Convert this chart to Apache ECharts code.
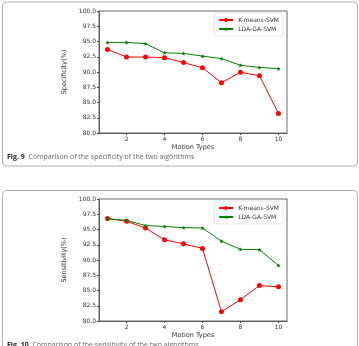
<!DOCTYPE html>
<html>
<head>
<meta charset="utf-8">
<script src="https://cdn.jsdelivr.net/npm/echarts@6/dist/echarts.min.js"></script>
<style>
  html, body { margin: 0; padding: 0; background: #fff; }
  #chart { width: 359px; height: 346px; }
</style>
</head>
<body>
<div id="chart"></div>
<script>
// data
const motionTypes = [1, 2, 3, 4, 5, 6, 7, 8, 9, 10];
const xTicks = [2, 4, 6, 8, 10];
const yTicks = [80, 82.5, 85, 87.5, 90, 92.5, 95, 97.5, 100];
const specKmeans = [93.7, 92.45, 92.45, 92.35, 91.55, 90.7, 88.25, 89.95, 89.4, 83.2];
const specLda = [94.85, 94.85, 94.65, 93.15, 93.05, 92.6, 92.2, 91.1, 90.75, 90.55];
const sensKmeans = [96.8, 96.35, 95.25, 93.3, 92.65, 91.9, 81.5, 83.5, 85.8, 85.6];
const sensLda = [96.75, 96.5, 95.65, 95.5, 95.3, 95.25, 93.1, 91.75, 91.7, 89.1];

const chart = echarts.init(document.getElementById("chart"));
const font = "DejaVu Sans";
const star = "path://M0,-10L2.9,-4L9.5,-3.1L4.8,1.5L5.9,8.1L0,5L-5.9,8.1L-4.8,1.5L-9.5,-3.1L-2.9,-4Z";
const pairs = (vals) => motionTypes.map((x, i) => [x, vals[i]]);

const xAxisOf = (gi) => ({
  gridIndex: gi,
  type: "value",
  min: 0.55,
  max: 10.45,
  name: "Motion Types",
  nameLocation: "middle",
  nameGap: 11,
  nameTextStyle: { fontFamily: font, fontSize: 6.5, color: "#333" },
  axisLine: { show: true, onZero: false, lineStyle: { color: "#444", width: 0.8 } },
  axisTick: { show: true, length: 2, customValues: xTicks, lineStyle: { color: "#444" } },
  axisLabel: {
    fontFamily: font, fontSize: 6, color: "#333", margin: 3,
    customValues: xTicks,
    formatter: (v) => String(v),
  },
  splitLine: { show: false },
});

const yAxisOf = (gi, name) => ({
  gridIndex: gi,
  type: "value",
  min: 80,
  max: 100,
  interval: 2.5,
  name: name,
  nameLocation: "middle",
  nameGap: 21,
  nameTextStyle: { fontFamily: font, fontSize: 6.5, color: "#333" },
  axisLine: { show: true, lineStyle: { color: "#444", width: 0.8 } },
  axisTick: { show: true, length: 2, lineStyle: { color: "#444" } },
  axisLabel: {
    fontFamily: font, fontSize: 6, color: "#333", margin: 3,
    formatter: (v) => yTicks.includes(v) ? v.toFixed(1) : "",
  },
  splitLine: { show: false },
});

const seriesOf = (gi, name, vals, color, symbol, size) => ({
  name: name,
  type: "line",
  xAxisIndex: gi,
  yAxisIndex: gi,
  data: pairs(vals),
  symbol: symbol,
  symbolSize: size,
  showSymbol: true,
  lineStyle: { color: color, width: 1 },
  itemStyle: { color: color },
});

const legendOf = (top) => ({
  top: top,
  right: 76,
  orient: "vertical",
  itemWidth: 14,
  itemHeight: 5,
  itemGap: 3,
  padding: [4, 4, 4, 4],
  borderColor: "#ccc",
  borderWidth: 0.6,
  borderRadius: 2,
  textStyle: { fontFamily: font, fontSize: 6, color: "#333" },
  data: ["K-means-SVM", "LDA-GA-SVM"],
});

const captionOf = (top, fig, text) => ({
  type: "text", left: 7, top: top,
  style: {
    text: "{b|" + fig + "}  " + text,
    fontFamily: "Open Sans", fontSize: 7, fill: "#666",
    rich: { b: { fontFamily: "Open Sans", fontSize: 7, fontWeight: "bold", fill: "#222" } },
  },
});

chart.setOption({
  animation: false,
  grid: [
    { left: 99, top: 11, width: 188, height: 122, show: true, borderColor: "#444", borderWidth: 0.8 },
    { left: 99, top: 199, width: 188, height: 122, show: true, borderColor: "#444", borderWidth: 0.8 },
  ],
  xAxis: [xAxisOf(0), xAxisOf(1)],
  yAxis: [yAxisOf(0, "Specificity(%)"), yAxisOf(1, "Sensitivity(%)")],
  legend: [legendOf(13), legendOf(201)],
  series: [
    seriesOf(0, "K-means-SVM", specKmeans, "#ff0000", "circle", 5),
    seriesOf(0, "LDA-GA-SVM", specLda, "#008000", star, 4),
    seriesOf(1, "K-means-SVM", sensKmeans, "#ff0000", "circle", 5),
    seriesOf(1, "LDA-GA-SVM", sensLda, "#008000", star, 4),
  ],
  graphic: [
    { type: "rect", shape: { x: 2.5, y: 2, width: 355, height: 164, r: 4 }, style: { fill: "none", stroke: "#999", lineWidth: 0.8 }, silent: true },
    { type: "rect", shape: { x: 2.5, y: 190.5, width: 355, height: 170, r: 4 }, style: { fill: "none", stroke: "#999", lineWidth: 0.8 }, silent: true },
    captionOf(153, "Fig. 9", "Comparison of the specificity of the two algorithms"),
    captionOf(341, "Fig. 10", "Comparison of the sensitivity of the two algorithms"),
  ],
});
</script>
</body>
</html>
